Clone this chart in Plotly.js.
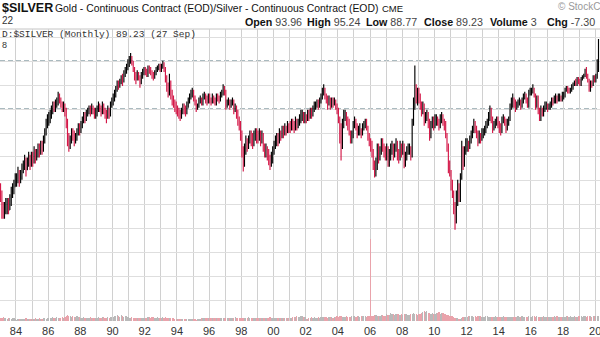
<!DOCTYPE html>
<html>
<head>
<meta charset="utf-8">
<script src="https://cdn.plot.ly/plotly-3.0.1.min.js"></script>
<style>
html,body{margin:0;padding:0;background:#fff;}
#chart{width:600px;height:337px;}
</style>
</head>
<body>
<div id="chart"></div>
<script>
// ---- data (monthly $GOLD:$SILVER ratio) ----
const firstYear = 1983;
const firstMonth = 1;
const firstOpen = 41;

const closeVals = [
  40,36,35,36,37,37,36,38,40,41,42,44,      // 1983
  44,46,44,45,47,48,50,47,49,50,49,51,      // 1984
  50,53,51,52,54,53,55,54,57,60,63,65,      // 1985
  66,68,70,72,71,73,74,77,75,73,71,72,      // 1986
  69,64,58,56,57,60,59,57,58,60,62,61,      // 1987
  63,65,67,66,68,69,70,69,71,70,68,69,      // 1988
  70,72,71,69,72,70,68,67,70,68,72,74,      // 1989
  76,78,80,83,82,84,86,85,89,90,92,95,      // 1990
  97,99,96,92,88,86,89,87,85,88,90,91,      // 1991
  90,89,92,91,90,88,87,89,91,92,93,92,      // 1992
  93,95,92,86,82,80,83,78,76,73,72,70,      // 1993
  70,68,67,69,71,70,69,72,74,76,77,78,      // 1994
  76,74,71,72,74,75,73,76,77,75,74,76,      // 1995
  75,74,76,75,73,77,76,75,77,78,80,79,      // 1996
  72,73,74,72,73,74,70,71,68,66,64,60,      // 1997
  53,49,54,57,55,57,59,58,57,58,60,59,      // 1998
  58,60,57,59,55,53,54,52,51,49,50,53,      // 1999
  55,56,58,57,60,59,61,60,62,61,63,62,      // 2000
  62,64,63,62,65,63,64,66,67,68,66,67,      // 2001
  66,68,67,69,68,70,71,72,73,72,74,76,      // 2002
  79,80,77,76,73,75,72,74,73,74,72,70,      // 2003
  66,63,55,63,67,68,65,64,60,58,59,63,      // 2004
  65,63,60,61,61,60,62,63,65,62,59,57,      // 2005
  55,53,48,46,48,53,51,53,56,55,53,52,      // 2006
  53,50,51,54,55,52,54,56,53,51,55,53,      // 2007
  55,50,51,53,54,54,52,64,71,80,76,79,      // 2008
  76,73,70,72,65,67,68,65,59,63,66,64,      // 2009
  65,66,65,63,66,67,65,64,59,55,49,46,      // 2010
  43,40,37,33,38,42,39,45,52,49,53,56,      // 2011
  56,55,57,59,61,63,62,60,57,59,58,60,      // 2012
  60,61,63,64,66,68,66,62,63,64,65,64,      // 2013
  62,61,65,66,65,62,64,66,71,73,75,74,      // 2014
  71,72,73,74,72,74,76,77,75,72,78,79,      // 2015
  80,80,77,72,76,70,66,70,68,71,72,72,      // 2016
  71,72,72,75,74,75,76,75,76,76,75,77,      // 2017
  77,80,81,79,79,80,82,83,84,83,86,84,      // 2018
  83,86,87,88,90,88,85,82,84,83,87,85,      // 2019
  87,97,104                                 // 2020
];
const highVals = [
  43,41,38,38,39,39,39,40,42,43,44,46,
  46,48,47,47,49,50,52,51,51,53,52,53,
  53,55,54,54,56,56,57,57,59,62,66,68,
  69,70,72,74,74,75,76,79,78,76,74,74,
  73,71,66,60,59,62,62,61,60,62,64,64,
  65,67,69,69,70,71,72,72,73,72,71,71,
  72,74,73,72,74,73,71,70,72,71,74,76,
  78,80,82,85,85,86,88,89,91,93,95,98,
  100,102,100,97,93,90,91,90,88,90,92,93,
  93,92,94,94,93,91,90,91,93,94,95,95,
  95,97,96,93,88,84,89,85,80,77,75,74,
  72,71,70,71,73,73,72,74,76,78,80,81,
  80,77,75,73,76,77,76,78,79,78,77,78,
  78,76,78,77,76,78,78,77,79,80,83,82,
  80,75,76,75,75,76,75,73,72,70,67,65,
  61,55,56,59,58,59,61,61,60,61,62,62,
  61,62,61,61,60,56,56,55,54,52,53,55,
  57,59,60,60,62,61,63,63,64,63,65,64,
  65,66,66,65,67,66,66,68,70,70,69,69,
  68,70,70,71,71,72,74,74,75,75,76,78,
  81,83,81,78,77,77,76,76,76,76,75,73,
  71,67,64,66,70,70,69,67,66,61,61,65,
  67,66,64,63,64,62,64,65,66,66,63,60,
  58,57,54,50,51,56,56,55,58,58,56,55,
  56,55,54,56,57,56,56,58,57,54,57,56,
  57,56,53,55,56,56,55,66,76,94,83,81,
  81,78,74,74,73,69,70,69,66,65,67,67,
  68,68,67,66,68,69,68,66,65,60,56,50,
  47,44,41,38,41,44,43,46,57,55,55,58,
  58,57,59,61,63,66,65,63,61,61,60,62,
  62,63,65,66,69,72,71,67,65,66,67,67,
  65,64,67,68,67,66,66,67,73,76,78,76,
  75,74,75,76,75,76,78,79,78,76,80,81,
  81,83,81,78,77,77,71,72,71,72,74,74,
  73,73,74,76,76,77,78,77,78,78,77,79,
  79,81,82,82,81,81,83,84,85,86,87,87,
  86,87,88,89,92,93,89,86,85,85,88,88,
  89,98,112
];
const lowVals = [
  38,34,34,34,35,35,35,36,37,39,40,42,
  42,43,42,43,44,46,47,45,47,48,47,48,
  48,49,49,50,51,51,52,52,53,56,59,62,
  63,64,66,68,69,69,71,72,73,71,69,69,
  67,62,55,53,54,56,57,55,56,57,59,59,
  60,62,64,64,65,67,68,67,68,68,66,66,
  67,69,69,67,68,68,66,64,66,66,67,71,
  72,74,76,79,80,81,83,82,84,87,89,91,
  93,95,94,90,85,83,85,85,81,83,86,88,
  88,87,87,89,88,86,85,86,88,90,91,90,
  90,92,90,84,79,76,77,75,72,71,69,68,
  67,66,65,66,68,68,67,68,71,73,75,76,
  74,72,69,70,71,73,72,72,75,73,72,73,
  73,72,73,73,72,72,74,73,74,76,77,77,
  70,71,72,70,71,72,68,69,66,63,61,57,
  51,46.5,48,52,53,54,56,55,54,55,57,56,
  56,57,55,56,53,51,51,50,48.5,47,48,49,
  52,54,55,55,56,57,58,58,59,59,60,60,
  60,61,61,60,61,61,62,63,64,65,64,64,
  64,65,65,66,66,67,69,70,71,70,71,73,
  75,77,75,73,70,72,70,71,71,72,70,68,
  64,56,50,54,62,65,63,61,59,56,56,58,
  62,61,58,59,59,58,59,61,62,61,57,55,
  53,51,47,44.7,45,47,49,50,52,53,51,50,
  50,48,48,50,52,50,51,53,50,49,50,51,
  52,47.5,48,50,52,52,50,51,63,70,73,72,
  73,70,67,68,63,64,65,62,57,58,62,61,
  62,63,63,61,62,64,63,61,58,53,46,45,
  41,39,35,31.6,33,37,38,38,44,47,48,52,
  53,53,54,56,58,60,60,58,55,56,56,57,
  58,59,60,62,63,65,64,60,61,62,63,62,
  60,59,60,64,63,60,61,63,65,70,71,71,
  69,70,71,72,70,71,73,75,73,71,71,77,
  77,78,76,70,71,68,65,65,67,67,69,70,
  69,70,70,71,72,73,73,73,74,74,74,74,
  75,76,79,78,78,78,79,80,82,82,82,83,
  82,82,85,86,87,86,84,79,79,81,82,84,
  84,86,90
];
const volumeVals = [
  3,3,4,3,3,2,3,3,2,3,3,2,
  1,2,2,2,2,2,2,3,2,2,2,2,
  2,2,3,2,2,3,2,2,3,3,2,3,
  3,3,3,4,3,3,4,3,3,3,4,3,
  4,5,6,5,5,4,5,4,4,5,4,4,
  3,3,4,3,3,3,3,4,3,3,3,3,
  3,4,3,3,4,4,3,3,4,3,4,4,
  4,5,5,6,5,4,6,5,4,5,5,4,
  3,3,4,3,3,3,3,3,3,3,3,3,
  3,3,4,4,3,4,4,3,3,4,3,3,
  3,4,3,4,3,3,3,3,3,3,2,2,
  2,2,2,2,2,2,2,2,2,2,2,2,
  2,2,1,2,2,2,3,3,3,3,3,3,
  3,3,3,3,3,3,3,3,3,3,3,3,
  3,3,3,3,3,3,3,4,3,3,3,3,
  3,3,3,3,3,4,3,3,3,3,3,3,
  3,3,3,3,3,3,3,3,3,4,3,3,
  3,3,3,3,3,3,3,3,3,3,3,3,
  3,3,4,4,4,5,4,4,5,5,4,4,
  2,2,3,3,4,3,4,3,3,4,3,4,
  4,4,4,4,3,4,4,4,3,4,4,5,
  4,5,5,4,4,4,5,4,4,4,5,5,
  5,4,5,5,4,5,5,5,5,4,5,5,
  82,5,5,6,6,5,5,5,6,6,5,5,
  7,6,6,8,7,7,6,7,7,7,6,7,
  6,7,7,7,6,6,7,7,8,7,7,6,
  7,7,8,9,10,9,10,8,8,7,8,7,
  7,8,8,9,7,8,8,7,7,6,6,5,
  5,5,4,3,3,3,2,2,3,4,4,4,
  4,5,5,5,5,4,5,4,5,5,5,4,
  4,4,5,5,4,4,4,4,4,5,4,4,
  4,4,4,5,4,4,4,4,4,4,4,4,
  4,4,5,4,4,5,4,4,4,4,5,4,
  4,5,5,4,5,4,4,4,4,5,4,4,
  4,4,4,4,4,5,4,5,4,4,4,4,
  4,4,5,5,4,5,4,4,5,4,4,5,
  5,5,4,5,5,4,5,5,5,4,5,5,
  5,5,5
];
// horizontal reference (dashed) levels and the log grid spacing
const refLevels = [96.8, 70.4];
const gridBase = 70.4;
const gridRatio = Math.sqrt(96.8 / 70.4);

// ---- derived ----
const months = closeVals.map((_, i) => {
  const k = firstMonth - 1 + i;
  const y = firstYear + Math.floor(k / 12);
  const m = (k % 12) + 1;
  return y + '-' + String(m).padStart(2, '0') + '-15';
});
const openVals = closeVals.map((c, i) => i === 0 ? firstOpen : closeVals[i - 1]);
const volColors = closeVals.map((c, i) => c >= openVals[i] ? '#b9b9b9' : '#e9a3ab');

const FONT = 'Liberation Sans, Arial, sans-serif';
const H = 337, PT = 29, PB = 321;
function px(x) { return x / 600; }
function py(y) { return (PB - y) / (PB - PT); }
function ann(text, x, y, size, opts) {
  return Object.assign({
    text: text, xref: 'paper', yref: 'paper', x: px(x), y: py(y),
    xanchor: 'left', yanchor: 'middle', showarrow: false,
    font: {family: FONT, size: size, color: '#111'}
  }, opts || {});
}

const traces = [
  {
    type: 'bar', x: months, y: volumeVals, yaxis: 'y2',
    marker: {color: volColors, line: {width: 0}},
    hoverinfo: 'skip'
  },
  {
    type: 'ohlc', x: months, open: openVals, high: highVals, low: lowVals, close: closeVals,
    increasing: {line: {color: '#000000', width: 1.15}},
    decreasing: {line: {color: '#d41848', width: 1.15}},
    tickwidth: 0.35, hoverinfo: 'skip'
  }
];

const shapes = refLevels.map(v => ({
  type: 'line', xref: 'paper', x0: 0, x1: 1, yref: 'y', y0: v, y1: v,
  layer: 'below', line: {color: '#8fa4aa', width: 1.6, dash: '5px,3px'}
}));
shapes.push({type: 'line', xref: 'paper', yref: 'paper', x0: 0, x1: 1, y0: 1, y1: 1,
  layer: 'below', line: {color: '#c4c4c4', width: 1}});

const annotations = [
  ann('<b>$SILVER</b>', 0, 8, 12.5),
  ann('Gold - Continuous Contract (EOD)/Silver - Continuous Contract (EOD)', 53, 8, 10.4),
  ann('CME', 380, 8.5, 9.5),
  ann('© StockC', 556, 7, 10, {font: {family: FONT, size: 10, color: '#999'}}),
  ann('22', 0, 21, 10, {font: {family: FONT, size: 10, color: '#333'}}),
  ann('<b>Open</b> <span style="color:#444">93.96</span>', 243, 21.5, 10.7),
  ann('<b>High</b> <span style="color:#444">95.24</span>', 305, 21.5, 10.7),
  ann('<b>Low</b> <span style="color:#444">88.77</span>', 364, 21.5, 10.7),
  ann('<b>Close</b> <span style="color:#444">89.23</span>', 422, 21.5, 10.7),
  ann('<b>Volume</b> <span style="color:#444">3</span>', 488, 21.5, 10.7),
  ann('<b>Chg</b> <span style="color:#444">-7.30</span>', 545, 21.5, 10.7),
  ann('D:$SILVER (Monthly) 89.23 (27 Sep)', 0, 34.5, 9.5,
      {font: {family: 'Liberation Mono, DejaVu Sans Mono, monospace', size: 9.5, color: '#333'}}),
  ann('8', 0, 45, 9, {font: {family: FONT, size: 9, color: '#333'}})
];

const layout = {
  width: 600, height: H,
  margin: {l: 0, r: 0, t: PT, b: H - PB, pad: 0},
  paper_bgcolor: '#ffffff', plot_bgcolor: '#ffffff',
  showlegend: false, bargap: 0,
  xaxis: {
    type: 'date', range: ['1983-01-03', '2020-04-18'],
    tickformat: '%y', dtick: 'M24', tick0: '1984-01-01',
    showgrid: true, gridcolor: '#d0d0d0', gridwidth: 1,
    minor: {dtick: 'M12', tick0: '1984-01-01', showgrid: true, gridcolor: '#d0d0d0', gridwidth: 1},
    ticks: '', showline: false, zeroline: false,
    rangeslider: {visible: false},
    ticklabeloverflow: 'allow', ticklabelstandoff: 2,
    tickfont: {family: FONT, size: 11, color: '#333'},
    fixedrange: true
  },
  yaxis: {
    type: 'log',
    range: [Math.log10(gridBase) - (PB - 109) / 347.0, Math.log10(gridBase) + (109 - PT) / 347.0],
    tick0: Math.log10(gridBase), dtick: Math.log10(gridRatio),
    showgrid: true, gridcolor: '#dedede', gridwidth: 1,
    showticklabels: false, ticks: '', zeroline: false, showline: false,
    fixedrange: true
  },
  yaxis2: {
    overlaying: 'y', range: [0, PB - PT], visible: false,
    showgrid: false, zeroline: false, fixedrange: true
  },
  shapes: shapes,
  annotations: annotations
};

Plotly.newPlot('chart', traces, layout, {staticPlot: true, displayModeBar: false});
</script>
</body>
</html>
